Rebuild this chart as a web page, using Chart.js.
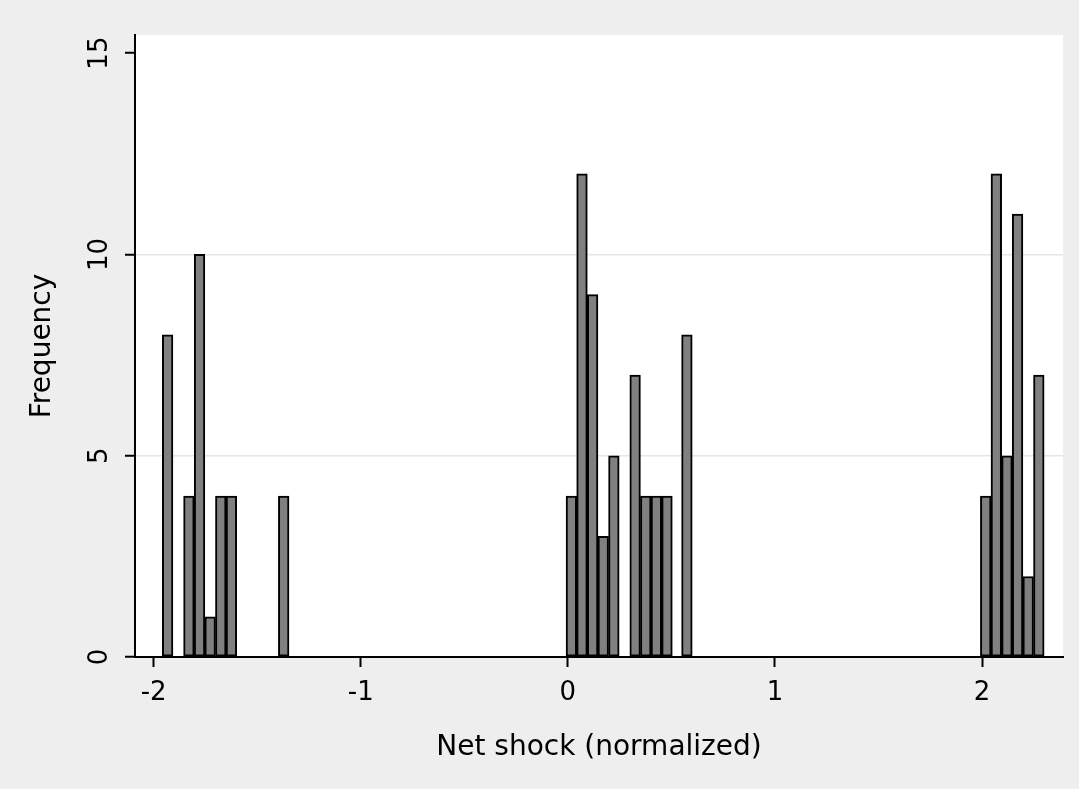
<!DOCTYPE html>
<html>
<head>
<meta charset="utf-8">
<script src="https://cdn.jsdelivr.net/npm/chart.js@4.4.1/dist/chart.umd.min.js"></script>
<style>
  html, body { margin: 0; padding: 0; background: #EEEEEE; }
  #c { display: block; }
</style>
</head>
<body>
<canvas id="c" width="1079" height="789"></canvas>
<script>
// Bin centers (Net shock, normalized) of non-empty histogram bins
const binCenters = [
  -1.9324, -1.8297, -1.7784, -1.7271, -1.6758, -1.6245, -1.372,
  0.0171, 0.0684, 0.1197, 0.1710, 0.2223, 0.3249, 0.3762, 0.4275, 0.4788, 0.575,
  2.0178, 2.0691, 2.1204, 2.1717, 2.2230, 2.2743
];
// Frequencies
const frequencies = [
  8, 4, 10, 1, 4, 4, 4,
  4, 12, 9, 3, 5, 7, 4, 4, 4, 8,
  4, 12, 5, 11, 2, 7
];
const xTickValues = [-2, -1, 0, 1, 2];
const yTickValues = [0, 5, 10, 15];
const yGridValues = [5, 10];
const xTitle = 'Net shock (normalized)';
const yTitle = 'Frequency';

const points = binCenters.map((x, i) => ({ x: x, y: frequencies[i] }));

const bgPlugin = {
  id: 'bg',
  beforeDraw(chart) {
    const { ctx, chartArea: a } = chart;
    ctx.save();
    ctx.fillStyle = '#EEEEEE';
    ctx.fillRect(0, 0, chart.width, chart.height);
    ctx.fillStyle = '#FFFFFF';
    ctx.fillRect(a.left, a.top, a.right - a.left, a.bottom - a.top);
    ctx.restore();
  }
};

const FONT = 'DejaVu Sans';

new Chart(document.getElementById('c'), {
  type: 'bar',
  data: {
    datasets: [{
      data: points,
      backgroundColor: '#808080',
      borderColor: '#000000',
      borderWidth: 2,
      borderSkipped: false,
      barPercentage: 1.0,
      categoryPercentage: 1.0
    }]
  },
  options: {
    responsive: false,
    animation: false,
    devicePixelRatio: 1,
    layout: { padding: { left: 0, top: 35, right: 16, bottom: 0 } },
    plugins: { legend: { display: false }, tooltip: { enabled: false } },
    scales: {
      x: {
        type: 'linear',
        offset: false,
        min: -2.09,
        max: 2.391,
        afterFit(scale) { scale.height = 132; },
        afterBuildTicks(scale) { scale.ticks = xTickValues.map(v => ({ value: v })); },
        ticks: {
          includeBounds: false,
          color: '#000',
          font: { family: FONT, size: 26 },
          padding: 11,
          maxRotation: 0,
          minRotation: 0,
          callback: v => String(v)
        },
        grid: {
          offset: false,
          drawOnChartArea: false,
          drawTicks: true,
          tickLength: 10,
          tickColor: '#000',
          tickWidth: 2
        },
        border: { display: true, color: '#000', width: 2 },
        title: {
          display: true,
          text: xTitle,
          color: '#000',
          font: { family: FONT, size: 28 },
          padding: { top: 0, bottom: 24 }
        }
      },
      y: {
        type: 'linear',
        min: 0,
        max: 15.45,
        afterFit(scale) { scale.width = 135; },
        afterBuildTicks(scale) { scale.ticks = yTickValues.map(v => ({ value: v })); },
        ticks: {
          includeBounds: false,
          color: '#000',
          font: { family: FONT, size: 26 },
          padding: 8,
          minRotation: 90,
          maxRotation: 90,
          crossAlign: 'center',
          callback: v => String(v)
        },
        grid: {
          drawOnChartArea: true,
          drawTicks: true,
          tickLength: 10,
          tickColor: '#000',
          tickWidth: 2,
          lineWidth: 1.5,
          color: ctx => (ctx.tick && yGridValues.includes(ctx.tick.value)) ? '#E6E6E6' : 'rgba(0,0,0,0)'
        },
        border: { display: true, color: '#000', width: 2 },
        title: {
          display: true,
          text: yTitle,
          color: '#000',
          font: { family: FONT, size: 28 },
          padding: { top: 26, bottom: 0 }
        }
      }
    }
  },
  plugins: [bgPlugin]
});
</script>
</body>
</html>
